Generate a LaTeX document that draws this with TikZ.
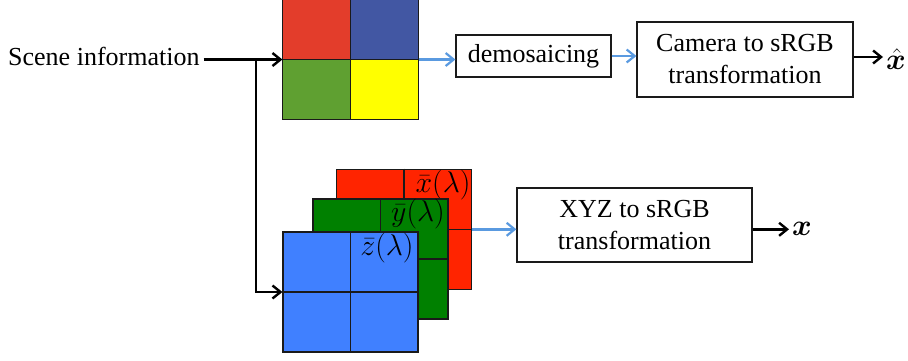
\documentclass[tikz,border=0pt]{standalone}
\usepackage{fontspec}
\setmainfont{Liberation Serif}
\usepackage{bm}
\usetikzlibrary{arrows.meta}

\definecolor{bRed}{HTML}{E33D2B}
\definecolor{bBlue}{HTML}{4257A3}
\definecolor{bGreen}{HTML}{5FA031}
\definecolor{bYellow}{HTML}{FFFF00}
\definecolor{fRed}{HTML}{FF2400}
\definecolor{fGreen}{HTML}{008000}
\definecolor{fBlue}{HTML}{4080FF}
\definecolor{flowBlue}{HTML}{5A9AE0}
\definecolor{edge}{HTML}{1A1A1A}

% large math symbols: \Huge math scaled up
\newcommand{\bigmath}[1]{\scalebox{1.2}{\Huge$#1$}}

\tikzset{
  txt/.style={font=\fontsize{26}{32}\selectfont},
  mlab/.style={inner sep=0pt},
  procbox/.style={draw=edge, line width=1.2pt, inner sep=0pt, align=center, txt},
  plane/.style={draw=edge, line width=1.2pt, inner sep=0pt, minimum width=135pt, minimum height=120pt},
  gridline/.style={draw=edge, line width=1.2pt},
  blackarrow/.style={line width=2.6pt, -{Straight Barb[length=8pt,width=13pt,line width=2.4pt]}},
  bluearrow/.style={flowBlue, line width=2.4pt, -{Straight Barb[length=8pt,width=13pt,line width=2.2pt]}},
}

\begin{document}
\begin{tikzpicture}[x=1pt,y=-1pt]
\useasboundingbox (0,0) rectangle (908,360);

% input text
\node[txt, anchor=base west, inner sep=0pt] (scene) at (8,65) {Scene information};

% Bayer mosaic
\node[plane, minimum height=119pt] (bayer) at (350.5,59.5) {};
\fill[bRed] (bayer.north west) rectangle (bayer.center);
\fill[bBlue] (bayer.north) rectangle (bayer.east);
\fill[bGreen] (bayer.west) rectangle (bayer.south);
\fill[bYellow] (bayer.center) rectangle (bayer.south east);
\draw[gridline] (bayer.north west) rectangle (bayer.south east);
\draw[gridline] (bayer.north) -- (bayer.south);
\draw[gridline] (bayer.west) -- (bayer.east);

% colour matching planes, back to front
\node[plane, fill=fRed] (red) at (404,229.3) {};
\draw[gridline] (red.north) -- (red.south);
\draw[gridline] (red.west) -- (red.east);
\node[mlab] (xlab) at (443,185) {\bigmath{\bar{x}(\lambda)}};

\node[plane, fill=fGreen] (green) at (380.5,259) {};
\draw[gridline] (green.north) -- (green.south);
\draw[gridline] (green.west) -- (green.east);
\node[mlab] (ylab) at (418,214) {\bigmath{\bar{y}(\lambda)}};

\node[plane, fill=fBlue] (blue) at (350.5,292) {};
\draw[gridline] (blue.north) -- (blue.south);
\draw[gridline] (blue.west) -- (blue.east);
\node[mlab] (zlab) at (387,248) {\bigmath{\bar{z}(\lambda)}};

% processing boxes
\node[procbox, minimum width=155pt, minimum height=42pt] (demo) at (533.5,56) {demosaicing};
\node[procbox, minimum width=216pt, minimum height=75pt] (cam) at (745,59.5) {Camera to sRGB\\transformation};
\node[procbox, minimum width=235pt, minimum height=74pt] (xyz) at (634.5,225) {XYZ to sRGB\\transformation};

% outputs
\node[mlab, anchor=west] (xhat) at (886,59) {\bigmath{\hat{\bm{x}}}};
\node[mlab, anchor=west] (xout) at (792,229) {\bigmath{\bm{x}}};

% connectors
\coordinate (split) at (256,59.5);
\draw[blackarrow] ([xshift=4pt]scene.east |- bayer.west) -- (bayer.west);
\draw[blackarrow] (split) |- (blue.west);
\draw[bluearrow] (bayer.east) -- (bayer.east -| demo.west);
\draw[bluearrow] (demo.east) -- (demo.east -| cam.west);
\draw[blackarrow] (cam.east |- 0,57) -- ([xshift=-3pt]xhat.west |- 0,57);
\draw[bluearrow] (red.east) -- (red.east -| xyz.west);
\draw[blackarrow] (xyz.east |- red.east) -- ([xshift=-3pt]xout.west |- red.east);
\end{tikzpicture}
\end{document}
